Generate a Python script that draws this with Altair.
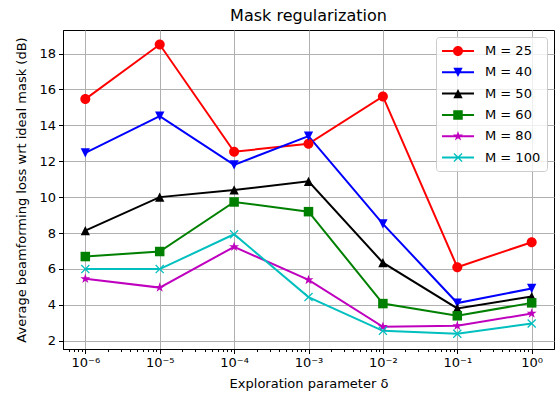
import altair as alt
import pandas as pd
import math

# ---------------- data ----------------
deltas = [1e-6, 1e-5, 1e-4, 1e-3, 1e-2, 1e-1, 1e0]
series_names = ["M = 25", "M = 40", "M = 50", "M = 60", "M = 80", "M = 100"]
m25 = [15.46, 18.50, 12.53, 12.97, 15.61, 6.10, 7.49]
m40 = [12.47, 14.51, 11.80, 13.40, 8.51, 4.10, 4.91]
m50 = [8.13, 10.00, 10.40, 10.88, 6.35, 3.80, 4.46]
m60 = [6.69, 6.97, 9.73, 9.19, 4.07, 3.39, 4.11]
m80 = [5.45, 4.96, 7.23, 5.39, 2.78, 2.83, 3.52]
m100 = [5.99, 5.99, 7.93, 4.43, 2.55, 2.39, 2.96]
series_values = [m25, m40, m50, m60, m80, m100]
colors = ["#ff0000", "#0000ff", "#000000", "#008000", "#bf00bf", "#00bfbf"]

x_tick_values = [1e-6, 1e-5, 1e-4, 1e-3, 1e-2, 1e-1, 1e0]
x_tick_labels = ["10⁻⁶", "10⁻⁵", "10⁻⁴", "10⁻³", "10⁻²", "10⁻¹", "10⁰"]
y_tick_values = [2, 4, 6, 8, 10, 12, 14, 16, 18]

rows = []
for name, vals in zip(series_names, series_values):
    for d, v in zip(deltas, vals):
        rows.append({"delta": d, "value": v, "M": name})
df = pd.DataFrame(rows)

# minor ticks (2..9 x 10^k) inside the domain
xmin, xmax = 10 ** -6.3, 10 ** 0.3
minor = []
for k in range(-7, 1):
    for m in range(2, 10):
        v = m * 10 ** k
        if xmin <= v <= xmax:
            minor.append(v)
all_x_ticks = sorted(x_tick_values + minor)

# ---------------- marker paths ----------------
def poly(pts, s=1.0, dx=0.0):
    return "M" + "L".join(f"{x * s + dx:.4f},{y * s:.4f}" for x, y in pts) + "Z"

def circle(s, dx=0.0):
    return (f"M{s + dx:.4f},0A{s:.4f},{s:.4f} 0 1,1 {-s + dx:.4f},0"
            f"A{s:.4f},{s:.4f} 0 1,1 {s + dx:.4f},0Z")

tri_down = [(-1, -1), (1, -1), (0, 1)]
tri_up = [(0, -1), (1, 1), (-1, 1)]
square = [(-1, -1), (1, -1), (1, 1), (-1, 1)]
star = []
for i in range(10):
    ang = math.radians(-90 + 36 * i)
    r = 1.0 if i % 2 == 0 else 0.382
    star.append((r * math.cos(ang), r * math.sin(ang)))
xcross = [(-1, -0.8), (-0.8, -1), (0, -0.2), (0.8, -1), (1, -0.8), (0.2, 0),
          (1, 0.8), (0.8, 1), (0, 0.2), (-0.8, 1), (-1, 0.8), (-0.2, 0)]

def marker(kind, s, dx=0.0):
    if kind == "circle":
        return circle(1.0 * s, dx)
    if kind == "tdown":
        return poly(tri_down, 0.93 * s, dx)
    if kind == "tup":
        return poly(tri_up, 0.93 * s, dx)
    if kind == "square":
        return poly(square, 0.95 * s, dx)
    if kind == "star":
        return poly(star, 1.05 * s, dx)
    return poly(xcross, 0.9 * s, dx)

kinds = ["circle", "tdown", "tup", "square", "star", "x"]
point_shapes = [marker(k, 1.0) for k in kinds]
# legend symbols: size 256 -> 8 px per unit; line 32 px wide starting at slot's left edge
leg_line = "M-1,-0.125L3,-0.125L3,0.125L-1,0.125Z"
legend_shapes = [leg_line + " " + marker(k, 0.625, 1.0) for k in kinds]

FONT = "DejaVu Sans"

color_scale = alt.Scale(domain=series_names, range=colors)
x_scale = alt.Scale(type="log", domain=[xmin, xmax], nice=False)
y_scale = alt.Scale(domain=[1.54, 19.31], nice=False, zero=False)

is_major = "abs(log(datum.value)/LN10 - round(log(datum.value)/LN10)) < 0.000001"
label_expr = ("(" + is_major + ") ? [" + ",".join(f"'{l}'" for l in x_tick_labels) +
              "][round(log(datum.value)/LN10) + 6] : ''")

x_axis = alt.Axis(values=all_x_ticks, labelExpr=label_expr, labelOverlap=False,
                  title="Exploration parameter δ",
                  tickSize={"condition": {"test": is_major, "value": 4.5}, "value": 2.5},
                  gridOpacity={"condition": {"test": is_major, "value": 1}, "value": 0},
                  labelPadding=3, titlePadding=8, grid=True)
y_axis = alt.Axis(values=y_tick_values, title="Average beamforming loss wrt ideal mask (dB)",
                  tickSize=4.5, labelPadding=3, titlePadding=10, grid=True, labelOverlap=False)

x_enc = alt.X("delta:Q", scale=x_scale, axis=x_axis)
y_enc = alt.Y("value:Q", scale=y_scale, axis=y_axis)

leg = alt.Legend(title=None, orient="top-right", offset=7, padding=6, rowPadding=6.3,
                 labelOffset=27, symbolSize=256, symbolOpacity=1, symbolStrokeWidth=0,
                 strokeColor="#cccccc", fillColor="rgba(255,255,255,0.8)", cornerRadius=3,
                 labelFontSize=13, labelFont=FONT, labelColor="black")

base = alt.Chart(df)

legend_layer = base.mark_point(filled=True, opacity=0, size=256).encode(
    x=x_enc,
    y=y_enc,
    color=alt.Color("M:N", scale=color_scale, legend=leg, sort=series_names),
    shape=alt.Shape("M:N", scale=alt.Scale(domain=series_names, range=legend_shapes),
                    legend=leg, sort=series_names),
)

lines = base.mark_line(strokeWidth=2).encode(
    x=x_enc,
    y=y_enc,
    color=alt.Color("M:N", scale=color_scale, legend=None),
    detail="M:N",
)

point_layers = []
for name, shp in zip(series_names, point_shapes):
    point_layers.append(
        base.transform_filter(alt.datum.M == name).mark_point(filled=True, opacity=1, size=100).encode(
            x=x_enc,
            y=y_enc,
            color=alt.Color("M:N", scale=color_scale, legend=None),
            shape=alt.value(shp),
        )
    )

chart = alt.layer(legend_layer, lines, *point_layers).properties(
    width=491, height=319,
    padding={"left": 63, "top": 30, "right": 6, "bottom": 47},
    autosize=alt.AutoSizeParams(type="none"),
    title=alt.TitleParams("Mask regularization", fontSize=16, font=FONT, fontWeight="normal",
                          color="black", anchor="middle", offset=6),
).configure_view(stroke="black", strokeWidth=1).configure_axis(
    labelFont=FONT, labelFontSize=13, labelColor="black",
    titleFont=FONT, titleFontSize=13, titleFontWeight="normal", titleColor="black",
    tickColor="black", domainColor="black", gridColor="#b0b0b0", gridWidth=1,
    tickWidth=1, domainWidth=1,
)

chart.save("out.html", embed_options={"renderer": "svg", "actions": False})
